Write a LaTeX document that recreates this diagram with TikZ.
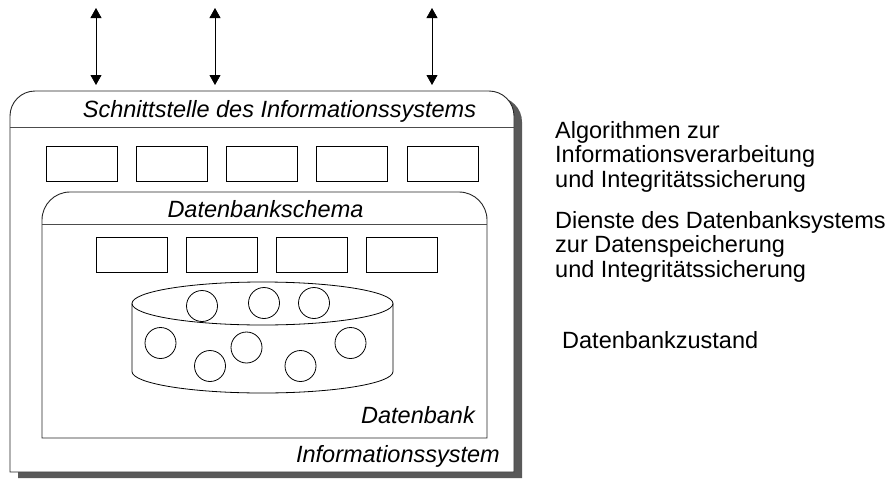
\documentclass[tikz,border=0pt]{standalone}
\usepackage{fontspec}
\setmainfont{Liberation Sans}
\usetikzlibrary{arrows.meta}
\begin{document}
\begin{tikzpicture}[x=1pt,y=-1pt,
  lbl/.style={inner sep=0pt, font=\fontsize{23.5}{24.5}\selectfont},
  ilbl/.style={inner sep=0pt, font=\fontsize{23.5}{24.5}\selectfont\itshape},
  fbox/.style={draw, line width=0.8pt, minimum width=71pt, minimum height=35pt, inner sep=0pt},
  dbc/.style={draw, line width=0.8pt, circle, minimum size=31pt, inner sep=0pt},
  biarrow/.style={{Triangle[width=11pt,length=10pt]}-{Triangle[width=11pt,length=10pt]}, line width=0.8pt},
  frame/.style={draw=black!85, line width=0.9pt, fill=white},
  sepline/.style={draw=black!70, line width=0.9pt},
  shadowfill/.style={fill=black!65}]
\useasboundingbox (0,0) rectangle (896,479);
% shadow of the outer frame
\fill[shadowfill, shift={(8,6)}] (10,472) -- (10,116) arc[start angle=180, end angle=270, radius=25]
  -- (489,91) arc[start angle=270, end angle=360, radius=25] -- (514,472) -- cycle;
% outer frame
\path[frame] (10,472) -- (10,116) arc[start angle=180, end angle=270, radius=25]
  -- (489,91) arc[start angle=270, end angle=360, radius=25] -- (514,472) -- cycle;
\coordinate (oh1) at (10,127);
\coordinate (oh2) at (514,127);
\draw[sepline] (oh1) -- (oh2);
% inner frame
\path[frame] (42,438) -- (42,220) arc[start angle=180, end angle=270, radius=28]
  -- (459,192) arc[start angle=270, end angle=360, radius=28] -- (487,438) -- cycle;
\coordinate (ih1) at (42,224);
\coordinate (ih2) at (487,224);
\draw[sepline] (ih1) -- (ih2);
% labels in frames
\node[ilbl, anchor=base] (tSchnitt) at (279.5,117) {Schnittstelle des Informationssystems};
\node[ilbl, anchor=base] (tSchema) at (265.5,217) {Datenbankschema};
\node[ilbl, anchor=base east] (tDB) at (475,423) {Datenbank};
\node[ilbl, anchor=base east] (tIS) at (500,462) {Informationssystem};
% algorithm boxes
\foreach \i/\x in {1/81.5,2/171.75,3/262,4/352.25,5/442.5}
  \node[fbox] (a\i) at (\x,163.5) {};
% service boxes
\foreach \i/\x in {1/132,2/222,3/312,4/402}
  \node[fbox] (s\i) at (\x,254.5) {};
% cylinder
\draw[line width=0.8pt] (262.5,303.5) ellipse[x radius=130.5, y radius=21.5];
\draw[line width=0.8pt] (132,303.5) -- (132,371.5)
  arc[start angle=180, end angle=0, x radius=130.5, y radius=21.5] -- (393,303.5);
% data circles
\foreach \i/\x/\y in {1/202/306,2/264/303,3/314/303,4/160.5/343,5/210/366,6/246.5/347.5,7/300.5/366,8/350.5/343}
  \node[dbc] (c\i) at (\x,\y) {};
% arrows
\foreach \i/\x in {1/96,2/215,3/432}{
  \coordinate (p\i) at (\x,85);
  \coordinate (q\i) at (\x,8);
  \draw[biarrow] (p\i) -- (q\i);
}
% right texts
\node[lbl, anchor=base west] (r1a) at (555,138) {Algorithmen zur};
\node[lbl, anchor=base west] (r1b) at (555,162.5) {Informationsverarbeitung};
\node[lbl, anchor=base west] (r1c) at (555,187) {und Integritätssicherung};
\node[lbl, anchor=base west] (r2a) at (555,228) {Dienste des Datenbanksystems};
\node[lbl, anchor=base west] (r2b) at (555,252.5) {zur Datenspeicherung};
\node[lbl, anchor=base west] (r2c) at (555,277) {und Integritätssicherung};
\node[lbl, anchor=base west] (r3) at (562,348) {Datenbankzustand};
\end{tikzpicture}
\end{document}
